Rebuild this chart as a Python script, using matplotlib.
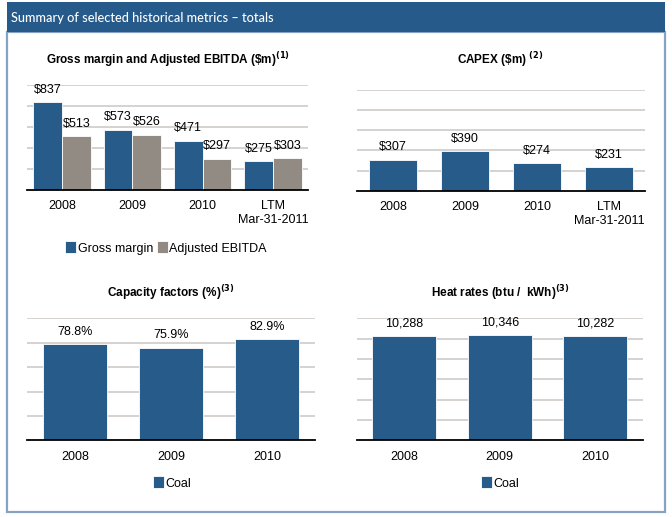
import matplotlib.pyplot as plt
from matplotlib.patches import Rectangle
import numpy as np

# data
fin_cats = ['2008', '2009', '2010', 'LTM\nMar-31-2011']
gross_margin = [837, 573, 471, 275]
adj_ebitda = [513, 526, 297, 303]
capex = [307, 390, 274, 231]

op_cats = ['2008', '2009', '2010']
capacity = [78.8, 75.9, 82.9]
heat_rate = [10288, 10346, 10282]

BLUE = '#275b8a'
GREY = '#928b83'
GRID = '#d3cfcb'
BORDER = '#86a3c2'

plt.rcParams['font.family'] = ['Liberation Sans', 'DejaVu Sans']

fig = plt.figure(figsize=(6.72, 5.17), dpi=100)
W, H = 672, 517


def fx(x):
    return x / W


def fy(y):
    return 1 - y / H


# outer frame and header bar
fig.patches.append(Rectangle((fx(7), fy(512)), fx(665) - fx(7), fy(32) - fy(512),
                             transform=fig.transFigure, fill=False,
                             edgecolor=BORDER, linewidth=1.6))
fig.patches.append(Rectangle((fx(7), fy(32)), fx(665) - fx(7), fy(2) - fy(32),
                             transform=fig.transFigure, facecolor='#255a8a',
                             edgecolor='none'))
fig.text(fx(11), fy(17.5), 'Summary of selected historical metrics \u2013 totals',
         color='white', fontsize=9.2, family='Lato', fontweight='medium',
         va='center', ha='left')


def style(ax, ymax, step):
    ax.set_ylim(0, ymax)
    ax.set_yticks(np.arange(step, ymax + step / 2, step))
    ax.yaxis.grid(True, color=GRID, linewidth=1.3)
    ax.set_axisbelow(True)
    for s in ['top', 'left', 'right']:
        ax.spines[s].set_visible(False)
    ax.spines['bottom'].set_linewidth(1.3)
    ax.tick_params(axis='y', left=False, labelleft=False)
    ax.tick_params(axis='x', bottom=False, labelsize=9, pad=4)


def labels(ax, bars, vals, fmt):
    for b, v in zip(bars, vals):
        ax.annotate(fmt(v), (b.get_x() + b.get_width() / 2, b.get_height()),
                    xytext=(0, 9), textcoords='offset points',
                    ha='center', va='center', fontsize=9, annotation_clip=False)


legend_kw = dict(frameon=False, fontsize=9, handlelength=0.9, handleheight=1.1,
                 handletextpad=0.1, columnspacing=0.3, borderpad=0)

# Gross margin and Adjusted EBITDA
ax1 = fig.add_axes([fx(27), fy(190), fx(308) - fx(27), fy(85) - fy(190)])
x = np.arange(len(fin_cats))
w = 0.41
b1 = ax1.bar(x - w / 2, gross_margin, w, color=BLUE, edgecolor='white', linewidth=0.6,
             label='Gross margin')
b2 = ax1.bar(x + w / 2, adj_ebitda, w, color=GREY, edgecolor='white', linewidth=0.6,
             label='Adjusted EBITDA')
ax1.set_xlim(-0.5, len(fin_cats) - 0.5)
ax1.set_xticks(x, fin_cats)
style(ax1, 1000, 200)
labels(ax1, b1, gross_margin, lambda v: f'${v}')
labels(ax1, b2, adj_ebitda, lambda v: f'${v}')
ax1.legend(loc='center', bbox_to_anchor=(fx(166), fy(248)), bbox_transform=fig.transFigure,
           ncol=2, **legend_kw)
fig.text(fx(168), fy(60), r'Gross margin and Adjusted EBITDA (\$m)$^{\mathbf{(1)}}$',
         ha='center', va='center', fontsize=8.5, fontweight='bold')

# CAPEX
ax2 = fig.add_axes([fx(357), fy(190.7), fx(645) - fx(357), fy(90) - fy(190.7)])
x = np.arange(len(fin_cats))
b = ax2.bar(x, capex, 0.68, color=BLUE, edgecolor='white', linewidth=0.6)
ax2.set_xlim(-0.5, len(fin_cats) - 0.5)
ax2.set_xticks(x, fin_cats)
style(ax2, 1000, 200)
labels(ax2, b, capex, lambda v: f'${v}')
fig.text(fx(500), fy(60), r'CAPEX (\$m) $^{\mathbf{(2)}}$',
         ha='center', va='center', fontsize=8.5, fontweight='bold')

# Capacity factors
ax3 = fig.add_axes([fx(26.7), fy(440.3), fx(315) - fx(26.7), fy(318.3) - fy(440.3)])
x = np.arange(len(op_cats))
b = ax3.bar(x, capacity, 0.67, color=BLUE, edgecolor='white', linewidth=0.6, label='Coal')
ax3.set_xlim(-0.5, len(op_cats) - 0.5)
ax3.set_xticks(x, op_cats)
style(ax3, 100, 20)
labels(ax3, b, capacity, lambda v: f'{v:.1f}%')
ax3.legend(loc='center', bbox_to_anchor=(fx(172), fy(483)), bbox_transform=fig.transFigure,
           **legend_kw)
fig.text(fx(171), fy(293), r'Capacity factors (%)$^{\mathbf{(3)}}$',
         ha='center', va='center', fontsize=8.5, fontweight='bold')

# Heat rates
ax4 = fig.add_axes([fx(356.7), fy(440.3), fx(642.7) - fx(356.7), fy(318.3) - fy(440.3)])
x = np.arange(len(op_cats))
b = ax4.bar(x, heat_rate, 0.67, color=BLUE, edgecolor='white', linewidth=0.6, label='Coal')
ax4.set_xlim(-0.5, len(op_cats) - 0.5)
ax4.set_xticks(x, op_cats)
style(ax4, 12000, 2000)
labels(ax4, b, heat_rate, lambda v: f'{v:,}')
ax4.legend(loc='center', bbox_to_anchor=(fx(500), fy(483)), bbox_transform=fig.transFigure,
           **legend_kw)
fig.text(fx(500), fy(293), r'Heat rates (btu /  kWh)$^{\mathbf{(3)}}$',
         ha='center', va='center', fontsize=8.5, fontweight='bold')

fig.savefig('out.png', dpi=100)
